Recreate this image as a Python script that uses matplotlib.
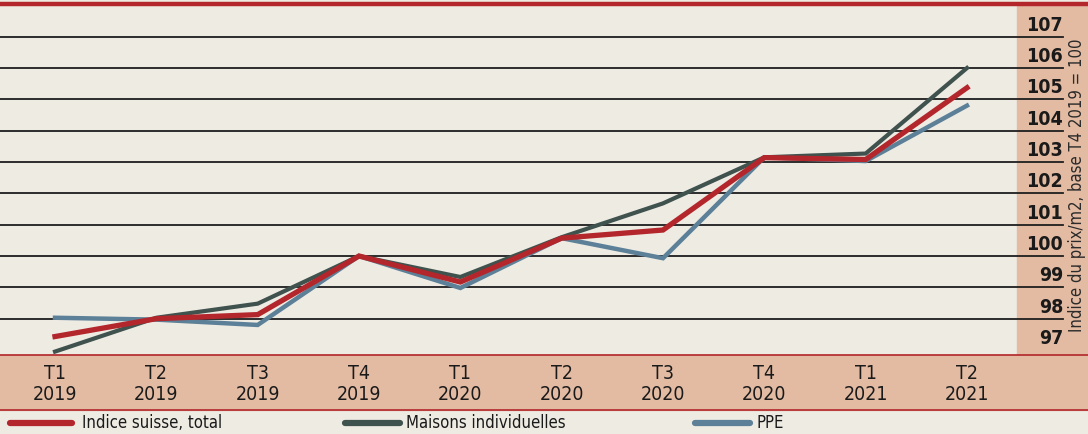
import matplotlib
matplotlib.use("Agg")
from matplotlib import pyplot as plt
from matplotlib.patches import Rectangle

# data (index, T4 2019 = 100)
quarters = ["T1\n2019", "T2\n2019", "T3\n2019", "T4\n2019", "T1\n2020",
            "T2\n2020", "T3\n2020", "T4\n2020", "T1\n2021", "T2\n2021"]
total = [97.43, 98.0, 98.13, 100.0, 99.17, 100.57, 100.83, 103.14, 103.08, 105.37]
maisons = [96.95, 98.03, 98.48, 100.0, 99.33, 100.6, 101.68, 103.15, 103.27, 106.0]
ppe = [98.03, 97.97, 97.8, 100.0, 98.98, 100.57, 99.93, 103.15, 103.03, 104.8]
yticks = list(range(97, 108))
series_names = ["Indice suisse, total", "Maisons individuelles", "PPE"]

plt.rcParams['font.family'] = ['DejaVu Sans']
plt.rcParams['font.stretch'] = 'condensed'

bg = "#eeebe3"
salmon = "#e3bba3"
red = "#b3262b"
dark = "#3f524d"
blue = "#5c8098"
W, H = 1088, 434

fig = plt.figure(figsize=(W / 100, H / 100), dpi=100)
fig.patch.set_facecolor(bg)
ax = fig.add_axes([0, 0, 1, 1])
ax.set_facecolor("none")
ax.axis("off")
ax.set_xlim(-0.543, 10.194)
ax.set_ylim(94.32, 108.17)

def fx(px):
    return px / W

def fy(py):
    return 1 - py / H

T = ax.transAxes

# background panels
ax.add_patch(Rectangle((fx(1017), fy(355)), fx(71), fy(6) - fy(355),
                       transform=T, color=salmon, zorder=0))
ax.add_patch(Rectangle((0, fy(410)), 1, fy(355) - fy(410),
                       transform=T, color=salmon, zorder=0))
ax.plot([0, 1], [fy(4), fy(4)], transform=T, color=red, lw=3.2, zorder=1)
ax.plot([0, 1], [fy(355), fy(355)], transform=T, color=red, lw=1.2, zorder=1)
ax.plot([0, 1], [fy(410), fy(410)], transform=T, color=red, lw=1.2, zorder=1)

# grid lines and right-side labels
xr = -0.543 + 1063 / 101.33
for v in yticks:
    if v > 97:
        ax.plot([-0.543, xr], [v, v], color="#1e1e1e", lw=1.3, zorder=1)
    ax.text(xr, v + 0.06, str(v), ha="right", va="bottom", fontsize=14,
            fontweight="bold", color="#1a1a1a", zorder=3)

ax.text(fx(1077), fy(185), "Indice du prix/m2, base T4 2019 = 100", transform=T,
        rotation=90, ha="center", va="center", fontsize=12, color="#2a2a2a")

# series
x = range(len(quarters))
ax.plot(x, ppe, color=blue, lw=3.2, solid_joinstyle="miter", zorder=4)
ax.plot(x, maisons, color=dark, lw=3.0, solid_joinstyle="miter", zorder=5)
ax.plot(x, total, color=red, lw=3.8, solid_joinstyle="miter", zorder=6)

# quarter labels
for i, q in enumerate(quarters):
    ax.text(i, 94.32 + (434 - 384) / 31.35, q, ha="center", va="center",
            fontsize=14, linespacing=1.1, color="#1a1a1a")

# legend
legend_pos = [(10, 72, 82), (345, 400, 406), (695, 750, 757)]
for (x0, x1, xt), c, name in zip(legend_pos, [red, dark, blue], series_names):
    ax.plot([fx(x0), fx(x1)], [fy(423), fy(423)], transform=T, color=c, lw=4.5,
            solid_capstyle="round")
    ax.text(fx(xt), fy(423), name, transform=T, ha="left", va="center",
            fontsize=12, color="#1a1a1a")

fig.savefig("out.png", dpi=100, facecolor=bg)
